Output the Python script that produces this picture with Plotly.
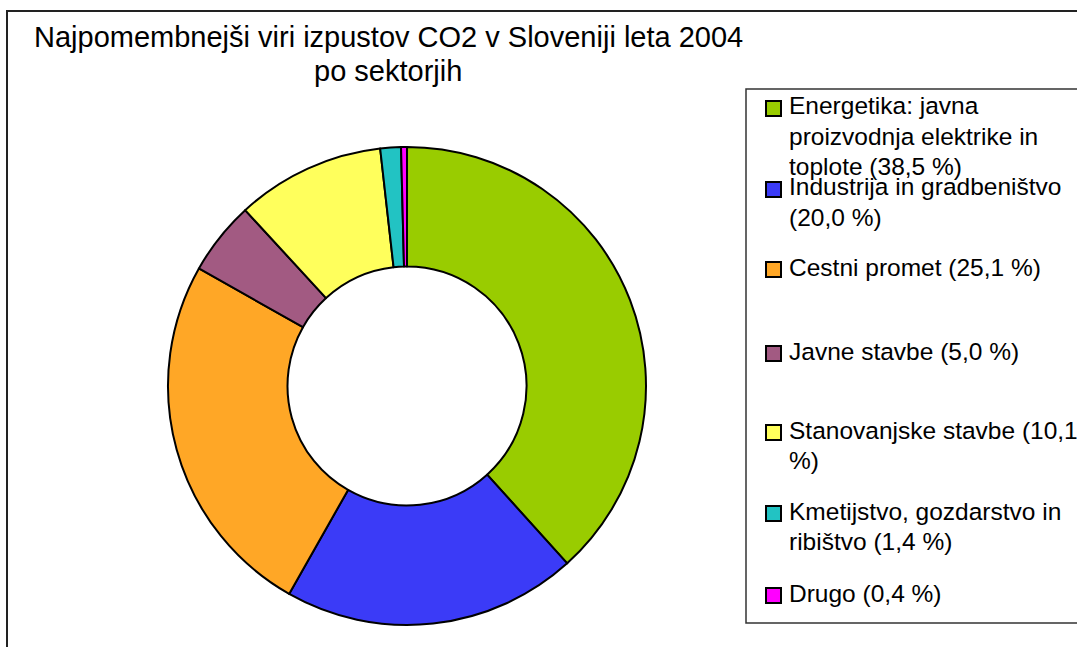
import textwrap
import plotly.graph_objects as go

# ---- data ----
labels = [
    "Energetika: javna proizvodnja elektrike in toplote",
    "Industrija in gradbeništvo",
    "Cestni promet",
    "Javne stavbe",
    "Stanovanjske stavbe",
    "Kmetijstvo, gozdarstvo in ribištvo",
    "Drugo",
]
shares = [38.5, 20.0, 25.1, 5.0, 10.1, 1.4, 0.4]
title_lines = ["Najpomembnejši viri izpustov CO2 v Sloveniji leta 2004", "po sektorjih"]

# ---- styles ----
colors = ["#99CC00", "#3B3BF7", "#FFA726", "#A25A82", "#FFFF5C", "#22C3C3", "#FF00FF"]
FONT = "Liberation Sans, Arial, sans-serif"
W, H = 1077, 647


def px(x):
    return x / W


def py(y):
    return 1 - y / H


fig = go.Figure()
fig.add_trace(go.Pie(
    labels=labels,
    values=shares,
    hole=0.5,
    sort=False,
    direction="clockwise",
    rotation=0,
    textinfo="none",
    marker=dict(colors=colors, line=dict(color="black", width=2)),
    domain=dict(x=[px(168), px(646)], y=[py(625), py(147)]),
    showlegend=False,
))

shapes = []
annotations = []

# outer chart frame
shapes.append(dict(type="rect", xref="paper", yref="paper",
                   x0=px(7), y0=py(11), x1=1.02, y1=-0.02,
                   line=dict(color="#222222", width=2), fillcolor="rgba(0,0,0,0)"))

# title
for i, t in enumerate(title_lines):
    annotations.append(dict(text=t, xref="paper", yref="paper", x=px(388), y=py(37 + i * 34),
                            xanchor="center", yanchor="middle", showarrow=False,
                            font=dict(family=FONT, size=29, color="black")))

# legend frame
shapes.append(dict(type="rect", xref="paper", yref="paper",
                   x0=px(746), y0=py(89), x1=1.02, y1=py(623),
                   line=dict(color="#333333", width=1.5), fillcolor="white"))

# legend entries
item_y = [106, 187, 267, 351, 430, 511, 593]
line_h = 30
for lab, val, col, y0 in zip(labels, shares, colors, item_y):
    txt = f"{lab} ({val:.1f} %)".replace(".", ",")
    lines = textwrap.wrap(txt, width=26)
    shapes.append(dict(type="rect", xref="paper", yref="paper",
                       x0=px(766), x1=px(781), y0=py(y0 - 5), y1=py(y0 + 10),
                       line=dict(color="black", width=2), fillcolor=col))
    for k, ln in enumerate(lines):
        annotations.append(dict(text=ln, xref="paper", yref="paper", x=px(787), y=py(y0 + k * line_h),
                                xanchor="left", yanchor="middle", showarrow=False,
                                font=dict(family=FONT, size=24.5, color="black")))

fig.update_layout(
    width=W, height=H,
    margin=dict(l=0, r=0, t=0, b=0),
    paper_bgcolor="white",
    plot_bgcolor="white",
    shapes=shapes,
    annotations=annotations,
)

fig.write_html("out.html", config={"displayModeBar": False},
               post_script="document.body.style.margin='0';")
